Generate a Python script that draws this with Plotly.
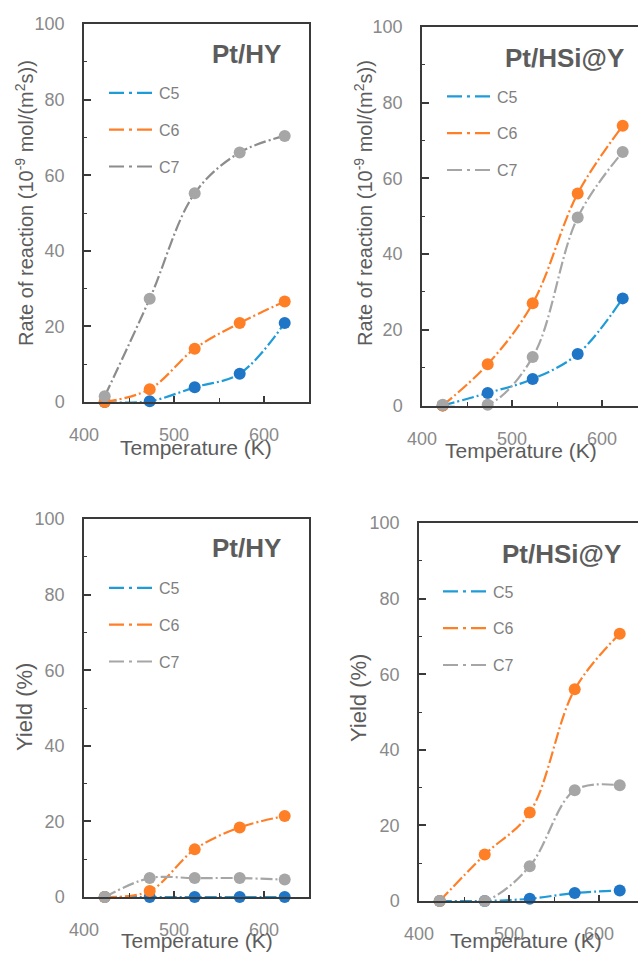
import plotly.graph_objects as go

# Reaction temperatures (K)
temps = [423, 473, 523, 573, 623]

# Rate of reaction, 10^-9 mol/(m^2 s)
rate_hy_c5 = [0.0, 0.2, 3.9, 7.5, 20.9]
rate_hy_c6 = [0.0, 3.4, 14.1, 20.9, 26.6]
rate_hy_c7 = [1.5, 27.3, 55.2, 66.0, 70.4]
rate_hsi_c5 = [0.0, 3.3, 7.0, 13.6, 28.3]
rate_hsi_c6 = [0.0, 10.9, 27.0, 56.0, 73.9]
rate_hsi_c7 = [0.2, 0.2, 12.8, 49.7, 67.0]

# Yield, %
yield_hy_c5 = [0.0, 0.0, 0.0, 0.0, 0.0]
yield_hy_c6 = [0.0, 1.6, 12.6, 18.4, 21.4]
yield_hy_c7 = [0.0, 5.0, 5.0, 5.0, 4.6]
yield_hsi_c5 = [0.0, 0.0, 0.6, 2.1, 2.8]
yield_hsi_c6 = [0.0, 12.3, 23.4, 56.0, 70.7]
yield_hsi_c7 = [0.0, 0.0, 9.2, 29.3, 30.6]

series_names = ["C5", "C6", "C7"]
x_ticks = [400, 500, 600]
y_ticks = [0, 20, 40, 60, 80, 100]

W, H = 638, 954
FONT = "Liberation Sans, Arial, sans-serif"
TICK_GREY = "#898989"
TEXT_GREY = "#5c5c5c"
AXIS_COLOR = "#3a3a3a"

line_colors = {"C5": "#1f9bd8", "C6": "#ff7f27", "C7": "#a6a6a6"}
marker_colors = {"C5": "#1f76c7", "C6": "#ff7f27", "C7": "#a6a6a6"}


def fx(p):
    return p / W


def fy(p):
    return 1 - p / H


RATE_TITLE = "Rate of reaction (10<sup>-9</sup> mol/(m<sup>2</sup>s))"

# pixel placement of each panel's plot area, labels and legend
panels = [
    dict(x0=84, x1=309, y0=24, y1=402, xmax=650, box=True,
         data=[rate_hy_c5, rate_hy_c6, rate_hy_c7], c7_line="#8c8c8c",
         title="Pt/HY", title_right=283, title_y=54,
         ytitle=RATE_TITLE, ytitle_size=20,
         ytitle_x=24, ytitle_y=203, xtitle_x=196, xtitle_y=448,
         leg_x=110, leg_y=93),
    dict(x0=422, x1=638, y0=27, y1=405.5, xmax=640, box=False,
         data=[rate_hsi_c5, rate_hsi_c6, rate_hsi_c7], c7_line="#a6a6a6",
         title="Pt/HSi@Y", title_right=626, title_y=58,
         ytitle=RATE_TITLE, ytitle_size=20,
         ytitle_x=363, ytitle_y=203, xtitle_x=521, xtitle_y=450,
         leg_x=448, leg_y=96.5),
    dict(x0=84, x1=309, y0=519, y1=897, xmax=650, box=True,
         data=[yield_hy_c5, yield_hy_c6, yield_hy_c7], c7_line="#a6a6a6",
         title="Pt/HY", title_right=283, title_y=548,
         ytitle="Yield (%)", ytitle_size=22,
         ytitle_x=24, ytitle_y=707, xtitle_x=197, xtitle_y=940,
         leg_x=110, leg_y=588),
    dict(x0=419, x1=638, y0=523, y1=901, xmax=643.3, box=False,
         data=[yield_hsi_c5, yield_hsi_c6, yield_hsi_c7], c7_line="#a6a6a6",
         title="Pt/HSi@Y", title_right=623, title_y=554,
         ytitle="Yield (%)", ytitle_size=22,
         ytitle_x=358, ytitle_y=698, xtitle_x=526, xtitle_y=940,
         leg_x=444, leg_y=591.5),
]

fig = go.Figure()
layout = dict(
    width=W, height=H,
    margin=dict(l=0, r=0, t=0, b=0, pad=0, autoexpand=False),
    paper_bgcolor="white", plot_bgcolor="white",
    font=dict(family=FONT, color=TICK_GREY),
    showlegend=True,
)
annotations = []

for i, p in enumerate(panels, start=1):
    sfx = "" if i == 1 else str(i)
    xa, ya = "x" + sfx, "y" + sfx
    leg = "legend" + sfx

    for name, vals in zip(series_names, p["data"]):
        lc = p["c7_line"] if name == "C7" else line_colors[name]
        fig.add_trace(go.Scatter(
            x=temps, y=vals, xaxis=xa, yaxis=ya,
            mode="lines+markers", name=name, showlegend=False,
            line=dict(color=lc, width=2.2, shape="spline", smoothing=1,
                      dash="12px,3px,2px,3px"),
            marker=dict(color=marker_colors[name], size=12),
            cliponaxis=False,
        ))
    # legend keys: dash-dot line only
    for name in series_names:
        lc = p["c7_line"] if name == "C7" else line_colors[name]
        fig.add_trace(go.Scatter(
            x=[None], y=[None], xaxis=xa, yaxis=ya, mode="lines",
            name=name, legend=leg, legendgroup=f"{i}-{name}",
            line=dict(color=lc, width=2.2, dash="15px,5px,3px,5px"),
        ))

    layout["xaxis" + sfx] = dict(
        domain=[fx(p["x0"]), fx(p["x1"])], anchor=ya,
        range=[400, p["xmax"]], tickvals=x_ticks, automargin=False,
        showline=True, linecolor=AXIS_COLOR, linewidth=1.5,
        mirror=True, showgrid=False, zeroline=False,
        ticks="inside", ticklen=6, tickwidth=1.5, tickcolor=AXIS_COLOR,
        minor=dict(dtick=50, tick0=400, ticks="inside", ticklen=4,
                   tickwidth=1.2, tickcolor=AXIS_COLOR),
        tickfont=dict(size=18, color=TICK_GREY, family=FONT),
        ticklabelstandoff=16,
    )
    layout["yaxis" + sfx] = dict(
        domain=[fy(p["y1"]), fy(p["y0"])], anchor=xa,
        range=[0, 100], tickvals=y_ticks, automargin=False,
        showline=True, linecolor=AXIS_COLOR, linewidth=1.5,
        mirror=p["box"], showgrid=False, zeroline=False,
        ticks="inside", ticklen=7, tickwidth=1.5, tickcolor=AXIS_COLOR,
        minor=dict(dtick=10, tick0=0, ticks="inside", ticklen=3,
                   tickwidth=1.2, tickcolor=AXIS_COLOR),
        tickfont=dict(size=18, color=TICK_GREY, family=FONT),
        ticklabelstandoff=14,
    )
    layout[leg] = dict(
        x=fx(p["leg_x"] - 6), y=fy(p["leg_y"] - 17),
        xanchor="left", yanchor="top",
        bgcolor="rgba(0,0,0,0)", borderwidth=0,
        font=dict(size=16, color="#7f7f7f", family=FONT),
        itemwidth=45, tracegroupgap=13,
    )

    annotations += [
        dict(text=f"<b>{p['title']}</b>", xref="paper", yref="paper",
             x=fx(p["title_right"]), y=fy(p["title_y"]),
             xanchor="right", yanchor="middle", showarrow=False,
             font=dict(size=26, color=TEXT_GREY, family=FONT)),
        dict(text=p["ytitle"], xref="paper", yref="paper",
             x=fx(p["ytitle_x"]), y=fy(p["ytitle_y"]), textangle=-90,
             xanchor="center", yanchor="middle", showarrow=False,
             font=dict(size=p["ytitle_size"], color=TEXT_GREY, family=FONT)),
        dict(text="Temperature (K)", xref="paper", yref="paper",
             x=fx(p["xtitle_x"]), y=fy(p["xtitle_y"]),
             xanchor="center", yanchor="middle", showarrow=False,
             font=dict(size=21, color=TEXT_GREY, family=FONT)),
    ]

layout["annotations"] = annotations
fig.update_layout(**layout)
fig.write_html("out.html")
